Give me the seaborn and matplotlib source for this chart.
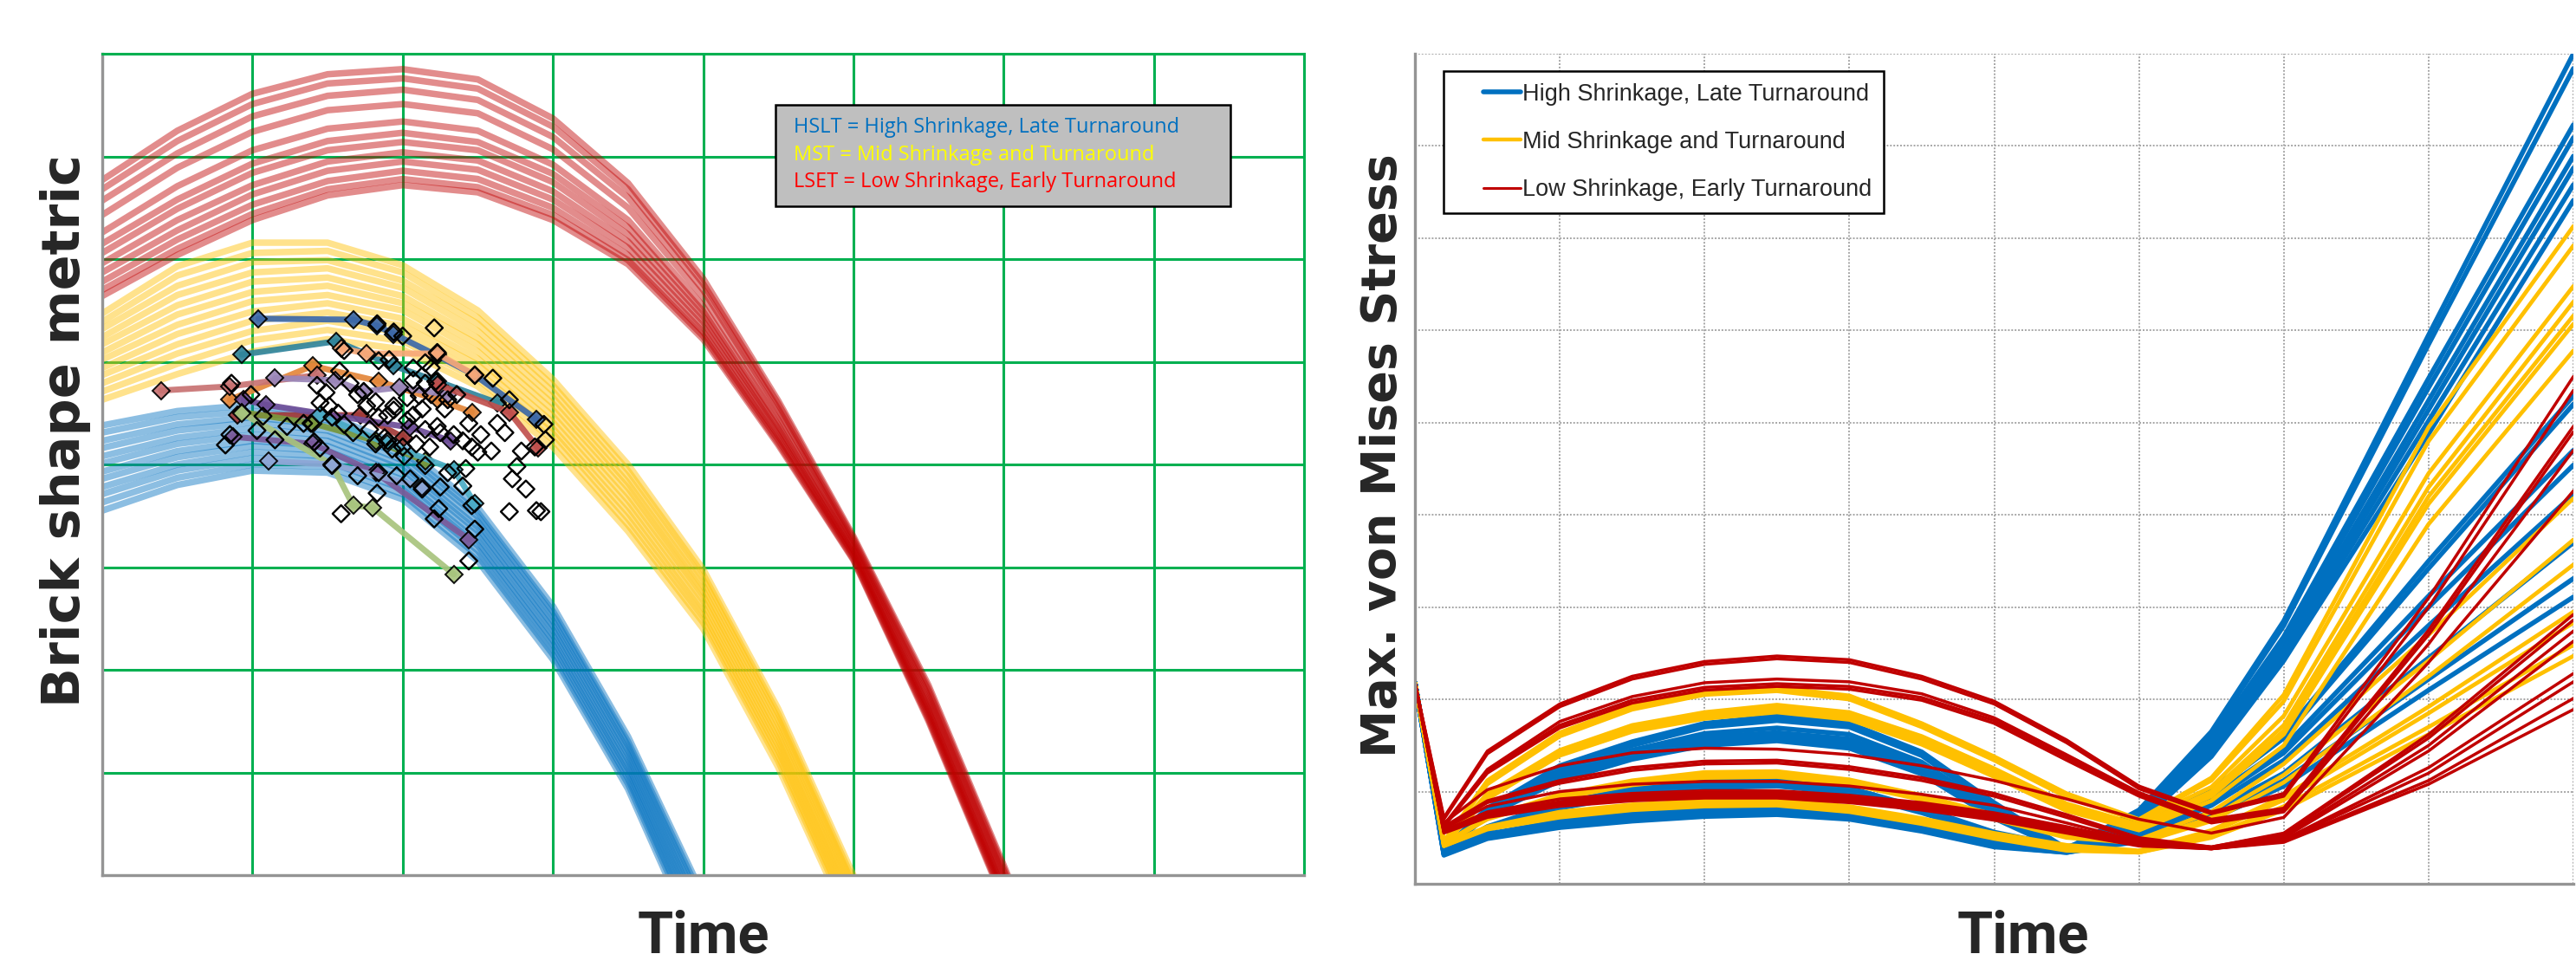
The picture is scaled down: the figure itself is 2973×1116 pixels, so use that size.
import numpy as np
import pandas as pd
import matplotlib
matplotlib.use("Agg")
import matplotlib.pyplot as plt
from matplotlib.patches import Rectangle
from matplotlib.lines import Line2D
from matplotlib.legend_handler import HandlerLine2D
import seaborn as sns

sns.set_style("white")
plt.rcParams["font.family"] = ["DejaVu Sans"]

# ---------------- left panel: brick shape metric vs time ----------------
LEFT_TIME_RED = [0, 0.5, 1, 1.5, 2, 2.5, 3, 3.5, 4, 4.5, 5, 5.5, 6, 6.5]
LSET_CURVES = [
    [6.77, 7.25, 7.61, 7.80, 7.85, 7.75, 7.37, 6.74, 5.81, 4.62, 3.30, 1.85, 0.10, -1.70],
    [6.68, 7.15, 7.51, 7.71, 7.76, 7.66, 7.29, 6.68, 5.76, 4.59, 3.28, 1.82, 0.07, -1.72],
    [6.57, 7.03, 7.39, 7.59, 7.65, 7.55, 7.19, 6.60, 5.70, 4.54, 3.26, 1.79, 0.04, -1.75],
    [6.43, 6.89, 7.24, 7.45, 7.51, 7.42, 7.07, 6.50, 5.63, 4.49, 3.23, 1.74, -0.01, -1.79],
    [6.26, 6.71, 7.06, 7.27, 7.34, 7.25, 6.92, 6.38, 5.54, 4.43, 3.20, 1.69, -0.06, -1.84],
    [6.15, 6.58, 6.93, 7.15, 7.23, 7.14, 6.83, 6.31, 5.49, 4.38, 3.17, 1.66, -0.09, -1.87],
    [6.06, 6.49, 6.84, 7.06, 7.14, 7.06, 6.75, 6.24, 5.44, 4.35, 3.16, 1.63, -0.12, -1.89],
    [5.96, 6.38, 6.72, 6.95, 7.04, 6.96, 6.66, 6.17, 5.39, 4.31, 3.13, 1.60, -0.15, -1.92],
    [5.87, 6.28, 6.63, 6.86, 6.95, 6.87, 6.58, 6.11, 5.34, 4.28, 3.12, 1.57, -0.18, -1.94],
    [5.78, 6.19, 6.53, 6.76, 6.86, 6.78, 6.50, 6.04, 5.29, 4.24, 3.10, 1.54, -0.21, -1.96],
    [5.70, 6.10, 6.44, 6.68, 6.78, 6.70, 6.43, 5.99, 5.25, 4.21, 3.08, 1.52, -0.23, -1.99],
    [5.64, 6.04, 6.38, 6.62, 6.72, 6.65, 6.38, 5.95, 5.22, 4.19, 3.07, 1.50, -0.25, -2.00],
]

LEFT_TIME_YEL = [0, 0.5, 1, 1.5, 2, 2.5, 3, 3.5, 4, 4.5, 5, 5.5]
MST_CURVES = [
    [5.47, 5.93, 6.16, 6.16, 5.94, 5.50, 4.83, 4.00, 2.98, 1.62, 0.00, -1.75],
    [5.39, 5.84, 6.06, 6.08, 5.87, 5.43, 4.77, 3.94, 2.93, 1.57, -0.05, -1.80],
    [5.32, 5.74, 5.97, 5.99, 5.79, 5.37, 4.71, 3.88, 2.88, 1.52, -0.10, -1.85],
    [5.24, 5.65, 5.87, 5.91, 5.72, 5.30, 4.65, 3.82, 2.82, 1.47, -0.15, -1.90],
    [5.17, 5.55, 5.78, 5.82, 5.64, 5.23, 4.59, 3.77, 2.77, 1.41, -0.20, -1.95],
    [5.09, 5.46, 5.68, 5.74, 5.57, 5.17, 4.53, 3.71, 2.72, 1.36, -0.25, -2.00],
    [5.02, 5.36, 5.59, 5.65, 5.50, 5.10, 4.47, 3.65, 2.67, 1.31, -0.30, -2.05],
    [4.94, 5.27, 5.49, 5.57, 5.42, 5.03, 4.41, 3.59, 2.61, 1.26, -0.35, -2.10],
    [4.87, 5.17, 5.40, 5.48, 5.35, 4.97, 4.35, 3.53, 2.56, 1.21, -0.40, -2.15],
    [4.79, 5.08, 5.30, 5.40, 5.28, 4.90, 4.30, 3.47, 2.51, 1.16, -0.45, -2.20],
    [4.71, 4.98, 5.21, 5.31, 5.20, 4.83, 4.24, 3.41, 2.46, 1.11, -0.50, -2.25],
    [4.63, 4.88, 5.10, 5.22, 5.12, 4.76, 4.17, 3.35, 2.40, 1.05, -0.55, -2.30],
]

LEFT_TIME_BLUE = [0, 0.5, 1, 1.5, 2, 2.5, 3, 3.5, 4, 4.5]
HSLT_CURVES = [
    [4.38, 4.52, 4.58, 4.48, 4.18, 3.58, 2.62, 1.35, -0.20, -1.90],
    [4.31, 4.46, 4.52, 4.43, 4.13, 3.53, 2.57, 1.30, -0.25, -1.96],
    [4.23, 4.39, 4.46, 4.38, 4.09, 3.49, 2.53, 1.26, -0.31, -2.03],
    [4.16, 4.33, 4.41, 4.33, 4.04, 3.44, 2.48, 1.21, -0.36, -2.09],
    [4.08, 4.26, 4.35, 4.28, 3.99, 3.39, 2.43, 1.17, -0.42, -2.15],
    [4.01, 4.20, 4.29, 4.23, 3.95, 3.35, 2.39, 1.12, -0.47, -2.22],
    [3.93, 4.13, 4.23, 4.18, 3.90, 3.30, 2.34, 1.07, -0.52, -2.28],
    [3.86, 4.07, 4.18, 4.13, 3.85, 3.25, 2.29, 1.03, -0.58, -2.34],
    [3.78, 4.00, 4.12, 4.08, 3.81, 3.21, 2.25, 0.98, -0.63, -2.40],
    [3.71, 3.94, 4.06, 4.03, 3.76, 3.16, 2.20, 0.94, -0.69, -2.47],
    [3.63, 3.87, 4.00, 3.98, 3.71, 3.11, 2.15, 0.89, -0.74, -2.53],
    [3.55, 3.80, 3.94, 3.92, 3.66, 3.06, 2.10, 0.84, -0.80, -2.60],
]

# measured brick trajectories (time, metric)
TRAJ_COLORS = ["#3C68A8", "#31859C", "#F8A878", "#E3873A", "#C87272", "#9A86B8",
               "#A23A38", "#C0504D", "#6E4E98", "#7A5A9A", "#7A983C", "#A8C47E",
               "#4BACC6", "#8EA6D6"]
TRAJ_TIME = [
    [1.04, 1.67, 1.83, 1.94, 2.23, 2.48, 2.89],
    [0.93, 1.56, 1.94, 2.23, 2.63],
    [1.59, 1.76, 2.23, 2.48],
    [0.85, 1.40, 1.84, 2.23, 2.46],
    [0.39, 0.85, 1.43],
    [1.15, 1.55, 1.74, 1.98, 2.30],
    [0.90, 1.72, 2.01],
    [2.23, 2.71, 2.90],
    [0.94, 1.09, 2.05, 2.32],
    [0.87, 1.40, 1.82, 2.44],
    [0.93, 1.40, 1.82, 2.15],
    [0.93, 1.53, 1.67, 1.80, 2.34],
    [1.45, 1.90, 2.34, 2.48],
    [1.11, 1.53, 2.13],
]
TRAJ_VALUE = [
    [5.42, 5.41, 5.35, 5.27, 5.06, 4.87, 4.44],
    [5.07, 5.20, 4.96, 4.81, 4.60],
    [5.13, 5.08, 5.08, 4.87],
    [4.63, 4.96, 4.81, 4.63, 4.51],
    [4.72, 4.76, 4.87],
    [4.84, 4.82, 4.71, 4.75, 4.68],
    [4.48, 4.48, 4.26],
    [4.78, 4.51, 4.16],
    [4.63, 4.58, 4.36, 4.23],
    [4.27, 4.20, 3.92, 3.27],
    [4.51, 4.40, 4.23, 4.03],
    [4.50, 4.00, 3.60, 3.58, 2.93],
    [4.48, 4.20, 3.95, 3.62],
    [4.03, 4.00, 3.78],
]

DIAMOND_T = [2.21, 1.83, 1.94, 2.00, 2.23, 2.15, 2.19, 2.48, 2.60, 2.71,
             2.94, 2.95, 2.88, 1.58, 1.65, 1.74, 1.82, 1.94, 2.03, 2.11,
             2.19, 2.28, 2.13, 2.07, 1.90, 1.84, 1.78, 1.67, 1.61, 1.53,
             1.45, 1.49, 1.43, 1.51, 1.57, 1.39, 1.34, 1.23, 1.15, 1.03,
             1.07, 1.82, 1.90, 2.00, 2.09, 2.18, 2.25, 2.34, 2.40, 2.46,
             2.52, 2.59, 2.63, 2.68, 2.79, 2.76, 2.73, 2.82, 2.71, 2.89,
             2.92, 2.46, 2.48, 2.44, 2.21, 2.24, 2.40, 2.25, 2.13, 2.05,
             1.96, 1.84, 1.83, 1.70, 1.59, 1.53, 1.41, 1.45, 2.15, 2.30,
             2.42, 2.44, 2.50, 2.23, 2.15, 2.01, 1.93, 1.88, 2.03, 1.94,
             2.15, 2.07, 2.22, 2.36, 2.30, 0.82, 0.85, 0.86, 0.99, 2.07,
             1.91, 1.84, 1.61, 1.76, 1.70]
DIAMOND_V = [5.33, 5.37, 5.29, 5.25, 5.09, 4.99, 4.94, 4.87, 4.84, 4.63,
             4.39, 4.24, 4.17, 4.91, 4.79, 4.71, 4.61, 4.53, 4.65, 4.67,
             4.68, 4.54, 4.54, 4.48, 4.48, 4.46, 4.34, 4.31, 4.39, 4.46,
             4.60, 4.70, 4.77, 4.57, 4.50, 4.40, 4.40, 4.37, 4.24, 4.33,
             4.47, 4.20, 4.23, 4.17, 4.20, 4.17, 4.31, 4.29, 4.23, 4.17,
             4.29, 4.13, 4.40, 4.31, 4.13, 3.98, 3.86, 3.76, 3.54, 3.55,
             3.54, 3.60, 3.37, 3.06, 3.47, 3.57, 3.79, 3.78, 3.76, 3.86,
             3.89, 3.92, 3.72, 3.89, 3.52, 3.99, 4.22, 4.16, 3.99, 3.92,
             3.96, 4.40, 4.12, 4.37, 4.34, 4.08, 4.15, 4.26, 4.43, 4.57,
             4.79, 4.82, 4.81, 4.68, 4.63, 4.19, 4.29, 4.79, 4.68, 4.94,
             5.02, 5.01, 5.11, 4.57, 4.68]

LEFT_NOTES = ["HSLT = High Shrinkage, Late Turnaround",
              "MST = Mid Shrinkage and Turnaround",
              "LSET = Low Shrinkage, Early Turnaround"]
LEFT_NOTE_COLORS = ["#0070C0", "#FFFF00", "#FF0000"]

# ---------------- right panel: max von Mises stress vs time ----------------
RIGHT_TIME = [0, 0.2, 0.5, 1.0, 1.5, 2.0, 2.5, 3.0, 3.5, 4.0, 4.5, 5.0, 5.5, 6.0, 7.0, 8.0]
HIGH_SHRINK = [
    [2.18, 0.38, 0.82, 1.28, 1.54, 1.74, 1.82, 1.74, 1.43, 0.88, 0.38, 0.80, 1.65, 2.85, 5.95, 9.00],
    [2.18, 0.37, 0.81, 1.26, 1.52, 1.72, 1.80, 1.72, 1.41, 0.86, 0.37, 0.79, 1.62, 2.80, 5.85, 8.84],
    [2.18, 0.37, 0.80, 1.24, 1.50, 1.70, 1.77, 1.70, 1.39, 0.84, 0.37, 0.76, 1.56, 2.68, 5.48, 8.23],
    [2.18, 0.36, 0.78, 1.20, 1.45, 1.63, 1.69, 1.62, 1.32, 0.80, 0.36, 0.74, 1.52, 2.63, 5.38, 8.09],
    [2.18, 0.36, 0.77, 1.18, 1.42, 1.59, 1.64, 1.57, 1.28, 0.77, 0.36, 0.72, 1.48, 2.57, 5.24, 7.89],
    [2.18, 0.35, 0.76, 1.16, 1.40, 1.56, 1.60, 1.53, 1.25, 0.75, 0.35, 0.70, 1.46, 2.52, 5.14, 7.76],
    [2.18, 0.35, 0.75, 1.14, 1.38, 1.53, 1.57, 1.50, 1.22, 0.73, 0.35, 0.68, 1.42, 2.47, 5.02, 7.58],
    [2.18, 0.34, 0.74, 1.12, 1.35, 1.50, 1.55, 1.47, 1.19, 0.71, 0.35, 0.66, 1.38, 2.42, 4.88, 7.41],
    [2.18, 0.35, 0.62, 0.88, 1.03, 1.11, 1.13, 1.04, 0.82, 0.56, 0.40, 0.62, 1.02, 1.62, 3.50, 5.29],
    [2.18, 0.35, 0.60, 0.85, 1.00, 1.08, 1.10, 1.01, 0.80, 0.54, 0.39, 0.60, 0.99, 1.58, 3.42, 5.20],
    [2.18, 0.34, 0.58, 0.82, 0.96, 1.04, 1.06, 0.98, 0.77, 0.52, 0.38, 0.57, 0.94, 1.48, 3.12, 4.70],
    [2.18, 0.33, 0.54, 0.68, 0.77, 0.83, 0.86, 0.80, 0.66, 0.46, 0.36, 0.55, 0.90, 1.42, 3.00, 4.54],
    [2.18, 0.33, 0.52, 0.66, 0.75, 0.80, 0.82, 0.77, 0.63, 0.44, 0.35, 0.52, 0.85, 1.34, 2.80, 4.22],
    [2.18, 0.32, 0.51, 0.64, 0.72, 0.77, 0.79, 0.74, 0.61, 0.42, 0.35, 0.50, 0.78, 1.20, 2.45, 3.70],
    [2.18, 0.32, 0.50, 0.62, 0.70, 0.75, 0.77, 0.72, 0.59, 0.41, 0.34, 0.48, 0.74, 1.12, 2.22, 3.31],
    [2.18, 0.31, 0.49, 0.61, 0.68, 0.73, 0.75, 0.70, 0.57, 0.40, 0.34, 0.46, 0.70, 1.06, 2.10, 3.11],
]
MID_SHRINK = [
    [2.18, 0.46, 1.12, 1.64, 1.93, 2.09, 2.13, 2.04, 1.74, 1.38, 0.98, 0.70, 1.15, 2.05, 4.95, 7.13],
    [2.18, 0.46, 1.10, 1.62, 1.91, 2.07, 2.11, 2.02, 1.72, 1.36, 0.96, 0.69, 1.12, 1.98, 4.80, 6.92],
    [2.18, 0.45, 1.08, 1.60, 1.89, 2.05, 2.09, 2.00, 1.70, 1.34, 0.94, 0.68, 1.05, 1.82, 4.45, 6.48],
    [2.18, 0.44, 0.98, 1.45, 1.72, 1.86, 1.94, 1.86, 1.60, 1.25, 0.87, 0.64, 1.00, 1.72, 4.30, 6.31],
    [2.18, 0.44, 0.96, 1.43, 1.70, 1.84, 1.92, 1.84, 1.57, 1.22, 0.84, 0.62, 0.97, 1.66, 4.20, 6.16],
    [2.18, 0.43, 0.94, 1.41, 1.68, 1.82, 1.89, 1.81, 1.54, 1.19, 0.82, 0.60, 0.95, 1.62, 4.12, 6.07],
    [2.18, 0.43, 0.92, 1.39, 1.65, 1.79, 1.86, 1.78, 1.51, 1.16, 0.79, 0.58, 0.90, 1.50, 3.90, 5.78],
    [2.18, 0.44, 0.72, 0.97, 1.12, 1.21, 1.22, 1.13, 0.96, 0.75, 0.55, 0.48, 0.78, 1.30, 2.70, 4.18],
    [2.18, 0.44, 0.71, 0.95, 1.10, 1.18, 1.19, 1.10, 0.93, 0.72, 0.52, 0.46, 0.72, 1.18, 2.42, 3.73],
    [2.18, 0.43, 0.70, 0.93, 1.07, 1.15, 1.16, 1.08, 0.91, 0.70, 0.50, 0.44, 0.68, 1.10, 2.25, 3.46],
    [2.18, 0.42, 0.62, 0.78, 0.86, 0.90, 0.91, 0.84, 0.71, 0.55, 0.42, 0.36, 0.58, 0.95, 1.92, 2.95],
    [2.18, 0.42, 0.61, 0.76, 0.84, 0.88, 0.89, 0.82, 0.69, 0.53, 0.40, 0.35, 0.56, 0.91, 1.85, 2.83],
    [2.18, 0.41, 0.60, 0.74, 0.82, 0.86, 0.87, 0.80, 0.67, 0.51, 0.38, 0.34, 0.52, 0.84, 1.70, 2.59],
    [2.18, 0.41, 0.59, 0.72, 0.80, 0.84, 0.85, 0.78, 0.65, 0.49, 0.36, 0.34, 0.50, 0.80, 1.62, 2.47],
]
LOW_SHRINK = [
    [2.18, 0.72, 1.44, 1.95, 2.25, 2.41, 2.47, 2.43, 2.25, 1.98, 1.56, 1.06, 0.78, 0.98, 3.10, 5.50],
    [2.18, 0.70, 1.41, 1.92, 2.22, 2.38, 2.44, 2.40, 2.22, 1.95, 1.53, 1.03, 0.76, 0.95, 3.00, 5.35],
    [2.18, 0.64, 1.24, 1.76, 2.03, 2.18, 2.22, 2.19, 2.06, 1.80, 1.40, 0.99, 0.70, 0.82, 2.75, 4.96],
    [2.18, 0.63, 1.22, 1.72, 1.99, 2.13, 2.17, 2.14, 2.02, 1.77, 1.37, 0.97, 0.68, 0.80, 2.70, 4.90],
    [2.18, 0.62, 1.20, 1.69, 1.96, 2.10, 2.14, 2.11, 1.99, 1.74, 1.34, 0.95, 0.66, 0.78, 2.60, 4.70],
    [2.18, 0.66, 1.02, 1.28, 1.42, 1.47, 1.46, 1.40, 1.28, 1.12, 0.92, 0.70, 0.55, 0.72, 2.40, 4.26],
    [2.18, 0.62, 0.90, 1.12, 1.26, 1.33, 1.34, 1.27, 1.15, 0.98, 0.75, 0.50, 0.40, 0.55, 1.62, 2.92],
    [2.18, 0.61, 0.88, 1.09, 1.23, 1.30, 1.31, 1.24, 1.12, 0.95, 0.72, 0.48, 0.40, 0.54, 1.58, 2.86],
    [2.18, 0.60, 0.84, 1.00, 1.08, 1.11, 1.11, 1.06, 0.97, 0.85, 0.66, 0.46, 0.39, 0.52, 1.50, 2.74],
    [2.18, 0.58, 0.78, 0.92, 0.98, 1.01, 1.01, 0.96, 0.88, 0.77, 0.62, 0.45, 0.39, 0.50, 1.44, 2.63],
    [2.18, 0.57, 0.76, 0.89, 0.96, 0.99, 0.99, 0.94, 0.86, 0.75, 0.60, 0.44, 0.38, 0.48, 1.26, 2.28],
    [2.18, 0.56, 0.74, 0.87, 0.94, 0.97, 0.97, 0.92, 0.84, 0.73, 0.58, 0.43, 0.38, 0.47, 1.20, 2.19],
    [2.18, 0.56, 0.73, 0.85, 0.92, 0.95, 0.95, 0.90, 0.82, 0.71, 0.56, 0.42, 0.38, 0.46, 1.12, 2.01],
    [2.18, 0.55, 0.72, 0.84, 0.90, 0.93, 0.93, 0.88, 0.80, 0.69, 0.55, 0.41, 0.38, 0.45, 1.08, 1.89],
]
RIGHT_LABELS = ["High Shrinkage, Late Turnaround",
                "Mid Shrinkage and Turnaround",
                "Low Shrinkage, Early Turnaround"]

BLUE, GOLD, RED = "#0070C0", "#FFC000", "#C00000"
TITLE_FONT = ["Roboto", "Liberation Sans", "DejaVu Sans"]
LEGEND_FONT = ["Liberation Sans", "DejaVu Sans"]


def long_frame(times, curves):
    rows = [(k, t, v) for k, vals in enumerate(curves) for t, v in zip(times, vals)]
    return pd.DataFrame(rows, columns=["curve", "time", "value"])


fig = plt.figure(figsize=(29.73, 11.16), dpi=100)
fig.patch.set_facecolor("white")
ax1 = fig.add_axes([118 / 2973, 106 / 1116, 1387 / 2973, 948 / 1116])
ax2 = fig.add_axes([1633 / 2973, 96 / 1116, 1337 / 2973, 958 / 1116])

# ---- left panel ----
for times, curves, col in [(LEFT_TIME_BLUE, HSLT_CURVES, BLUE),
                           (LEFT_TIME_YEL, MST_CURVES, GOLD),
                           (LEFT_TIME_RED, LSET_CURVES, RED)]:
    sns.lineplot(data=long_frame(times, curves), x="time", y="value", units="curve",
                 estimator=None, sort=False, color=col, lw=5.4, alpha=0.45,
                 legend=False, ax=ax1, zorder=2, solid_joinstyle="round")

for col, ts, vs in zip(TRAJ_COLORS, TRAJ_TIME, TRAJ_VALUE):
    sns.lineplot(x=ts, y=vs, sort=False, color=col, lw=5.0, alpha=0.92,
                 marker="D", markersize=10.5, markeredgecolor="black",
                 markeredgewidth=1.4, ax=ax1, legend=False, zorder=3)

sns.scatterplot(x=DIAMOND_T, y=DIAMOND_V, marker="D", s=100, facecolor="none",
                edgecolor="black", linewidth=1.7, ax=ax1, legend=False, zorder=4)

ax1.set_xlim(0, 8)
ax1.set_ylim(0, 8)
ax1.set_xticks(range(9))
ax1.set_yticks(range(9))
ax1.grid(True, color="#00B050", lw=2.2)
ax1.set_axisbelow(True)
for s in ["left", "bottom"]:
    ax1.spines[s].set_color("#949494")
    ax1.spines[s].set_linewidth(2.4)
for s in ["top", "right"]:
    ax1.spines[s].set_color("#00B050")
    ax1.spines[s].set_linewidth(2.2)
ax1.tick_params(direction="out", length=10, width=2.2, color="#949494",
                labelleft=False, labelbottom=False)
ax1.set_xlabel("")
ax1.set_ylabel("")

ax1.add_patch(Rectangle((0.560, 0.814), 0.379, 0.124, transform=ax1.transAxes,
                        facecolor="#BFBFBF", edgecolor="black", lw=1.8, zorder=6))
for txt, col, yy in zip(LEFT_NOTES, LEFT_NOTE_COLORS, [0.910, 0.877, 0.844]):
    ax1.text(0.575, yy, txt, color=col, transform=ax1.transAxes, fontsize=17,
             family=["Open Sans", "DejaVu Sans"], va="center", ha="left", zorder=7)

# ---- right panel ----
for curves, col, lw in [(HIGH_SHRINK, BLUE, 4.0), (MID_SHRINK, GOLD, 3.4),
                        (LOW_SHRINK, RED, 2.5)]:
    sns.lineplot(data=long_frame(RIGHT_TIME, curves), x="time", y="value", units="curve",
                 estimator=None, sort=False, color=col, lw=lw, legend=False, ax=ax2,
                 zorder=2)

ax2.set_xlim(0, 8)
ax2.set_ylim(0, 9)
ax2.set_xticks(range(9))
ax2.set_yticks(range(10))
ax2.grid(True, color="#A6A6A6", lw=1.4, linestyle=(0, (1, 1)))
ax2.set_axisbelow(True)
for s in ["left", "bottom"]:
    ax2.spines[s].set_color("#949494")
    ax2.spines[s].set_linewidth(2.4)
for s in ["top", "right"]:
    ax2.spines[s].set_visible(False)
ax2.tick_params(direction="out", length=10, width=2.2, color="#949494",
                labelleft=False, labelbottom=False)
ax2.set_xlabel("")
ax2.set_ylabel("")

handles = [Line2D([], [], color=BLUE, lw=4.0), Line2D([], [], color=GOLD, lw=3.2),
           Line2D([], [], color=RED, lw=2.2)]
leg = ax2.legend(handles, RIGHT_LABELS, loc="upper left", bbox_to_anchor=(0.0247, 0.979),
                 borderaxespad=0, frameon=True, fancybox=False, framealpha=1,
                 edgecolor="black", borderpad=0.5, labelspacing=1.08,
                 handlelength=2.8, handletextpad=0.05,
                 handler_map={Line2D: HandlerLine2D(xpad=1.2)},
                 prop={"family": LEGEND_FONT, "size": 19.5})
leg.get_frame().set_linewidth(1.8)

# ---- axis titles ----
fig.text(76 / 2973, 1 - 497 / 1116, "Brick shape metric", rotation=90, ha="center",
         va="center", fontsize=43.5, fontweight="bold", family=["DejaVu Sans"])
fig.text(1596 / 2973, 1 - 526 / 1116, "Max. von Mises Stress", rotation=90, ha="center",
         va="center", fontsize=40, fontweight="bold", family=["DejaVu Sans"])
fig.text(812 / 2973, 0.002, "Time", ha="center", va="bottom", fontsize=48,
         fontweight="bold", family=TITLE_FONT)
fig.text(2335 / 2973, 0.002, "Time", ha="center", va="bottom", fontsize=48,
         fontweight="bold", family=TITLE_FONT)

fig.savefig("out.png", dpi=100, facecolor="white")
